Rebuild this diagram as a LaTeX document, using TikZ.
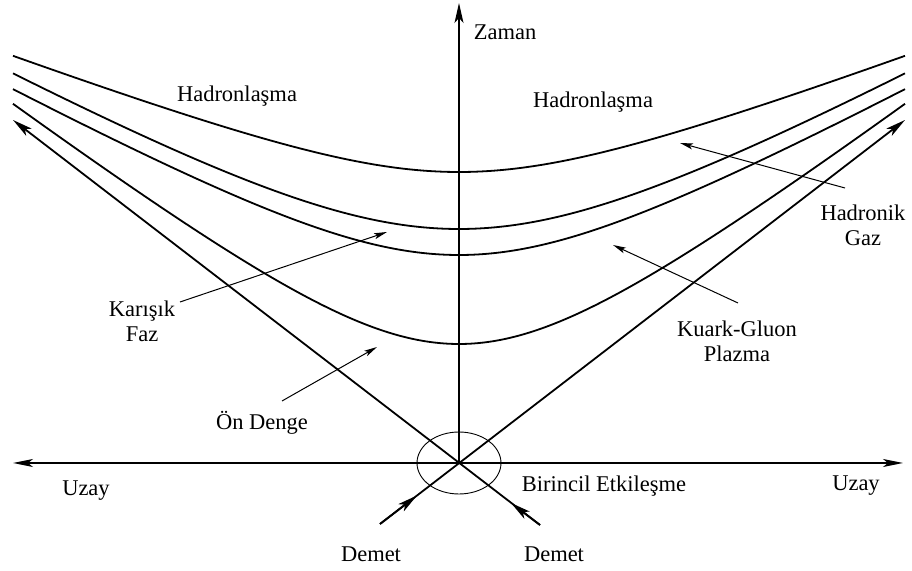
\documentclass[tikz,border=0pt]{standalone}
\usepackage{fontspec}
\setmainfont{Liberation Serif}
\usetikzlibrary{arrows.meta}
\begin{document}
\begin{tikzpicture}[x=0.5pt,y=-0.5pt,
  lbl/.style={font=\fontsize{11.25}{12.5}\selectfont, align=center, inner sep=0pt},
  axisline/.style={line width=0.75pt},
  bigtip/.style={-{Stealth[length=10pt,width=4.5pt,inset=2.5pt]}},
  curveline/.style={line width=0.9pt},
  coneline/.style={line width=0.9pt},
  annarrow/.style={line width=0.5pt,-{Stealth[length=6.5pt,width=3pt,inset=1.5pt]}}
]
\useasboundingbox (0,0) rectangle (912,571);
% key points
\coordinate (O) at (459,463);
\coordinate (T) at (459,3);
\coordinate (XL) at (13,463);
\coordinate (XR) at (903,463);
\coordinate (CL) at (13,120);
\coordinate (CR) at (905,120);
\coordinate (BL) at (380,524);
\coordinate (BLt) at (417,495.5);
\coordinate (BR) at (540,525);
\coordinate (BRt) at (511,503);
% axes
\draw[axisline,bigtip] (O) -- (T);
\draw[axisline,{Stealth[length=10pt,width=4pt,inset=2.5pt]}-{Stealth[length=10pt,width=4pt,inset=2.5pt]}] (XL) -- (XR);
% light cone
\draw[coneline,bigtip] (BR) -- (CL);
\draw[coneline,bigtip] (BL) -- (CR);
\draw[coneline,bigtip] (BL) -- (BLt);
\draw[coneline,bigtip] (BR) -- (BRt);
% interaction ellipse
\draw[line width=0.45pt] (O) ellipse [x radius=21pt, y radius=15.5pt];
% hyperbolas
\draw[curveline] plot[domain=-446:446, samples=120, smooth] ({459+\x}, {463-(291-65.5+100*sqrt((0.655)^2+(0.0038*\x)^2))});
\draw[curveline] plot[domain=-446:446, samples=120, smooth] ({459+\x}, {463-(234-115+100*sqrt((1.15)^2+(0.0055*\x)^2))});
\draw[curveline] plot[domain=-446:446, samples=120, smooth] ({459+\x}, {463-(208-98+100*sqrt((0.98)^2+(0.0055*\x)^2))});
\draw[curveline] plot[domain=-446:446, samples=120, smooth] ({459+\x}, {463-(100*sqrt((1.19)^2+(0.0076*\x)^2))});
% labels
\node[lbl,anchor=base] (zaman) at (505,40) {Zaman};
\node[lbl,anchor=base] (hadL) at (237,102) {Hadronlaşma};
\node[lbl,anchor=base] (hadR) at (593,108) {Hadronlaşma};
\node[lbl] (hgaz) at (863,225) {Hadronik\\Gaz};
\node[lbl] (kgp) at (737,341) {Kuark-Gluon\\Plazma};
\node[lbl] (kf) at (142,321) {Karışık\\Faz};
\node[lbl,anchor=base] (ond) at (262,430) {Ön Denge};
\node[lbl,anchor=base] (bir) at (604,492) {Birincil Etkileşme};
\node[lbl,anchor=base] (uzL) at (86,496) {Uzay};
\node[lbl,anchor=base] (uzR) at (856,491) {Uzay};
\node[lbl,anchor=base] (demL) at (371,562) {Demet};
\node[lbl,anchor=base] (demR) at (554,562) {Demet};
% annotation arrows
\coordinate (hgS) at (845,188); \coordinate (hgE) at (680,143);
\coordinate (kgS) at (738,303); \coordinate (kgE) at (613,245);
\coordinate (kfS) at (180,302); \coordinate (kfE) at (387,232);
\coordinate (odS) at (282,401); \coordinate (odE) at (377,347);
\draw[annarrow] (hgS) -- (hgE);
\draw[annarrow] (kgS) -- (kgE);
\draw[annarrow] (kfS) -- (kfE);
\draw[annarrow] (odS) -- (odE);
\end{tikzpicture}
\end{document}
